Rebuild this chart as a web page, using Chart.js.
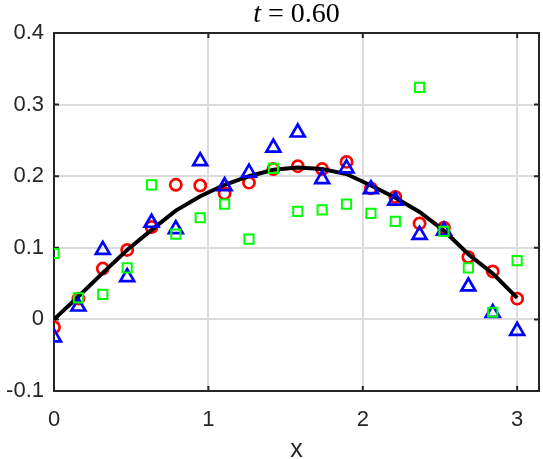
<!DOCTYPE html>
<html>
<head>
<meta charset="utf-8">
<script src="https://cdn.jsdelivr.net/npm/chart.js@4/dist/chart.umd.min.js"></script>
<style>
html, body { margin: 0; padding: 0; background: #fff; }
canvas { display: block; }
</style>
</head>
<body>
<canvas id="chart" width="543" height="459"></canvas>
<script>
'use strict';

// sample positions and series
const xValues = [0, 0.158, 0.316, 0.474, 0.632, 0.789, 0.947, 1.105, 1.263, 1.421,
                 1.579, 1.737, 1.895, 2.053, 2.211, 2.368, 2.526, 2.684, 2.842, 3.0];
const exactValues = [0, 0.032, 0.065, 0.097, 0.125, 0.152, 0.172, 0.188, 0.200, 0.209,
                     0.212, 0.210, 0.203, 0.187, 0.170, 0.150, 0.124, 0.091, 0.064, 0.030];
const redValues = [-0.011, 0.029, 0.071, 0.097, 0.129, 0.188, 0.187, 0.176, 0.191, 0.210,
                   0.214, 0.210, 0.220, 0.183, 0.171, 0.134, 0.128, 0.087, 0.067, 0.029];
const blueValues = [-0.025, 0.018, 0.097, 0.059, 0.135, 0.126, 0.221, 0.186, 0.205, 0.240,
                    0.261, 0.196, 0.211, 0.182, 0.166, 0.118, 0.124, 0.046, 0.009, -0.016];
const greenValues = [0.092, 0.030, 0.035, 0.072, 0.188, 0.119, 0.142, 0.161, 0.112, 0.211,
                     0.151, 0.153, 0.161, 0.148, 0.137, 0.324, 0.123, 0.072, 0.010, 0.082];

const xTicks = [0, 1, 2, 3];
const xTickLabels = ['0', '1', '2', '3'];
const yTicks = [-0.1, 0, 0.1, 0.2, 0.3, 0.4];
const yTickLabels = ['-0.1', '0', '0.1', '0.2', '0.3', '0.4'];
const titleVar = 't';
const titleRest = ' = 0.60';
const xTitle = 'x';

function toPoints(ys) {
  return xValues.map((x, i) => ({ x: x, y: ys[i] }));
}

// box round the axes with small inward ticks, like matlab
const axesBox = {
  id: 'axesBox',
  beforeDatasetsDraw(chart) {
    const ctx = chart.ctx;
    const a = chart.chartArea;
    const sx = chart.scales.x, sy = chart.scales.y;
    ctx.save();
    ctx.strokeStyle = '#262626';
    ctx.lineWidth = 2;
    ctx.strokeRect(a.left, a.top, a.right - a.left, a.bottom - a.top);
    ctx.beginPath();
    xTicks.forEach(v => {
      const px = sx.getPixelForValue(v);
      ctx.moveTo(px, a.bottom); ctx.lineTo(px, a.bottom - 5);
      ctx.moveTo(px, a.top); ctx.lineTo(px, a.top + 5);
    });
    yTicks.forEach(v => {
      const py = sy.getPixelForValue(v);
      ctx.moveTo(a.left, py); ctx.lineTo(a.left + 5, py);
      ctx.moveTo(a.right, py); ctx.lineTo(a.right - 5, py);
    });
    ctx.stroke();
    ctx.restore();
  }
};

const plotTitle = {
  id: 'plotTitle',
  afterDraw(chart) {
    const ctx = chart.ctx;
    const a = chart.chartArea;
    ctx.save();
    ctx.fillStyle = '#000';
    ctx.textBaseline = 'alphabetic';
    const italicFont = 'italic 28px "Liberation Serif"';
    const plainFont = '28px "Liberation Serif"';
    ctx.font = italicFont;
    const w1 = ctx.measureText(titleVar).width;
    ctx.font = plainFont;
    const w2 = ctx.measureText(titleRest).width;
    const x0 = (a.left + a.right) / 2 - (w1 + w2) / 2;
    ctx.font = italicFont;
    ctx.fillText(titleVar, x0, 22);
    ctx.font = plainFont;
    ctx.fillText(titleRest, x0 + w1, 22);
    ctx.restore();
  }
};

const tickFont = { family: 'Liberation Sans', size: 22 };
const gridStyle = { color: '#dcdcdc', lineWidth: 2, drawTicks: false };

const config = {
  type: 'scatter',
  data: {
    datasets: [
      {
        label: 'red',
        data: toPoints(redValues),
        pointStyle: 'circle',
        pointRadius: 5.6,
        pointBorderWidth: 2.7,
        borderColor: '#ff0000',
        backgroundColor: 'rgba(0,0,0,0)',
        order: 4
      },
      {
        label: 'exact',
        type: 'line',
        data: toPoints(exactValues),
        borderColor: '#000000',
        borderWidth: 4,
        pointRadius: 0,
        tension: 0,
        fill: false,
        order: 3
      },
      {
        label: 'blue',
        data: toPoints(blueValues),
        pointStyle: 'triangle',
        pointRadius: 8,
        pointBorderWidth: 2.7,
        borderColor: '#0000ff',
        backgroundColor: 'rgba(0,0,0,0)',
        order: 2
      },
      {
        label: 'green',
        data: toPoints(greenValues),
        pointStyle: 'rect',
        pointRadius: 6.5,
        pointBorderWidth: 2,
        borderColor: '#00ff00',
        backgroundColor: 'rgba(0,0,0,0)',
        order: 1
      }
    ]
  },
  options: {
    responsive: false,
    animation: false,
    layout: { autoPadding: false, padding: { top: 33, right: 4, left: 0, bottom: 0 } },
    plugins: {
      legend: { display: false },
      tooltip: { enabled: false },
      title: { display: false }
    },
    scales: {
      x: {
        type: 'linear',
        min: 0,
        max: 3.1416,
        grid: gridStyle,
        border: { display: false },
        afterBuildTicks: s => { s.ticks = xTicks.map(v => ({ value: v })); },
        afterFit: s => { s.height = 68; s.paddingLeft = 0; s.paddingRight = 0; },
        ticks: {
          font: tickFont,
          color: '#262626',
          padding: 16,
          maxRotation: 0,
          callback: v => xTickLabels[xTicks.indexOf(v)]
        },
        title: {
          display: true,
          text: xTitle,
          font: { family: 'Liberation Sans', size: 25, lineHeight: 0.7 },
          color: '#262626',
          padding: { top: 0, bottom: 0 }
        }
      },
      y: {
        type: 'linear',
        min: -0.1,
        max: 0.4,
        grid: gridStyle,
        border: { display: false },
        afterBuildTicks: s => { s.ticks = yTicks.map(v => ({ value: v })); },
        afterFit: s => { s.width = 54; s.paddingTop = 0; s.paddingBottom = 0; },
        ticks: {
          font: tickFont,
          color: '#262626',
          padding: 10,
          callback: v => yTickLabels[yTicks.indexOf(v)]
        }
      }
    }
  },
  plugins: [axesBox, plotTitle]
};

const myChart = new Chart(document.getElementById('chart'), config);
</script>
</body>
</html>
